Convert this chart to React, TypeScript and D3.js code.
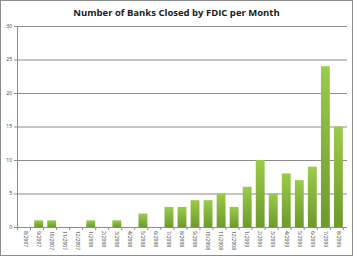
import React, { useEffect, useRef } from "react";
import * as d3 from "d3";

// Months shown on the category axis
const months = [
  "8/2007", "9/2007", "10/2007", "11/2007", "12/2007",
  "1/2008", "2/2008", "3/2008", "4/2008", "5/2008", "6/2008", "7/2008",
  "8/2008", "9/2008", "10/2008", "11/2008", "12/2008",
  "1/2009", "2/2009", "3/2009", "4/2009", "5/2009", "6/2009", "7/2009", "8/2009",
];

// Banks closed per month
const closures = [
  0, 1, 1, 0, 0,
  1, 0, 1, 0, 2, 0, 3,
  3, 4, 4, 5, 3,
  6, 10, 5, 8, 7, 9, 24, 15,
];

const yTicks = [0, 5, 10, 15, 20, 25, 30];

const W = 353;
const H = 256;
const margin = { top: 26, right: 6, bottom: 29, left: 17 };

const App: React.FC = () => {
  const svgRef = useRef<SVGSVGElement | null>(null);

  useEffect(() => {
    if (!svgRef.current) return;
    const root = d3.select(svgRef.current);
    root.selectAll("*").remove();

    const defs = root.append("defs");
    const grad = defs
      .append("linearGradient")
      .attr("id", "barGrad")
      .attr("x1", 0)
      .attr("x2", 0)
      .attr("y1", 0)
      .attr("y2", 1);
    grad.append("stop").attr("offset", "0%").attr("stop-color", "#9bcb4a");
    grad.append("stop").attr("offset", "100%").attr("stop-color", "#6d9a2c");

    // chart area border
    root
      .append("rect")
      .attr("x", 0.5)
      .attr("y", 0.5)
      .attr("width", W - 1)
      .attr("height", H - 1)
      .attr("fill", "#fff")
      .attr("stroke", "#8c8c8c");

    root
      .append("text")
      .attr("x", W / 2)
      .attr("y", 16)
      .attr("text-anchor", "middle")
      .attr("font-family", "'Open Sans', 'DejaVu Sans', sans-serif")
      .attr("font-weight", "bold")
      .attr("font-size", 9.5)
      .attr("fill", "#1a1a1a")
      .text("Number of Banks Closed by FDIC per Month");

    const innerW = W - margin.left - margin.right;
    const innerH = H - margin.top - margin.bottom;

    const g = root
      .append("g")
      .attr("transform", `translate(${margin.left},${margin.top})`);

    const x = d3.scaleBand().domain(months).range([0, innerW]).padding(0.32);
    const y = d3.scaleLinear().domain([0, 30]).range([innerH, 0]);

    // gridlines
    g.append("g")
      .selectAll("line")
      .data(yTicks)
      .enter()
      .append("line")
      .attr("x1", -3)
      .attr("x2", innerW)
      .attr("y1", (d) => y(d) + 0.5)
      .attr("y2", (d) => y(d) + 0.5)
      .attr("stroke", "#8c8c8c")
      .attr("stroke-width", 1);

    // bars
    g.append("g")
      .selectAll("rect")
      .data(closures)
      .enter()
      .append("rect")
      .attr("x", (_d, i) => x(months[i])!)
      .attr("y", (d) => y(d))
      .attr("width", x.bandwidth())
      .attr("height", (d) => innerH - y(d))
      .attr("fill", "url(#barGrad)");

    // y axis line
    g.append("line")
      .attr("x1", 0.5)
      .attr("x2", 0.5)
      .attr("y1", 0)
      .attr("y2", innerH + 3)
      .attr("stroke", "#8c8c8c");

    // x category tick marks
    const step = x.step();
    g.append("g")
      .selectAll("line")
      .data(d3.range(months.length + 1))
      .enter()
      .append("line")
      .attr("x1", (i) => i * step + 0.5)
      .attr("x2", (i) => i * step + 0.5)
      .attr("y1", innerH)
      .attr("y2", innerH + 3)
      .attr("stroke", "#8c8c8c");

    // y tick labels
    g.append("g")
      .selectAll("text")
      .data(yTicks)
      .enter()
      .append("text")
      .attr("x", -5)
      .attr("y", (d) => y(d))
      .attr("dy", "0.35em")
      .attr("text-anchor", "end")
      .attr("font-family", "'Open Sans', 'DejaVu Sans', sans-serif")
      .attr("font-size", 5)
      .attr("fill", "#333")
      .text((d) => d);

    // x tick labels, rotated
    g.append("g")
      .selectAll("text")
      .data(months)
      .enter()
      .append("text")
      .attr(
        "transform",
        (d) => `translate(${x(d)! + x.bandwidth() / 2},${innerH + 4}) rotate(90)`
      )
      .attr("dy", "0.35em")
      .attr("text-anchor", "start")
      .attr("font-family", "'Open Sans', 'DejaVu Sans', sans-serif")
      .attr("font-size", 5)
      .attr("fill", "#333")
      .text((d) => d);
  }, []);

  return (
    <svg
      ref={svgRef}
      width={W}
      height={H}
      style={{ position: "absolute", left: 0, top: 0, display: "block" }}
    />
  );
};

export default App;
